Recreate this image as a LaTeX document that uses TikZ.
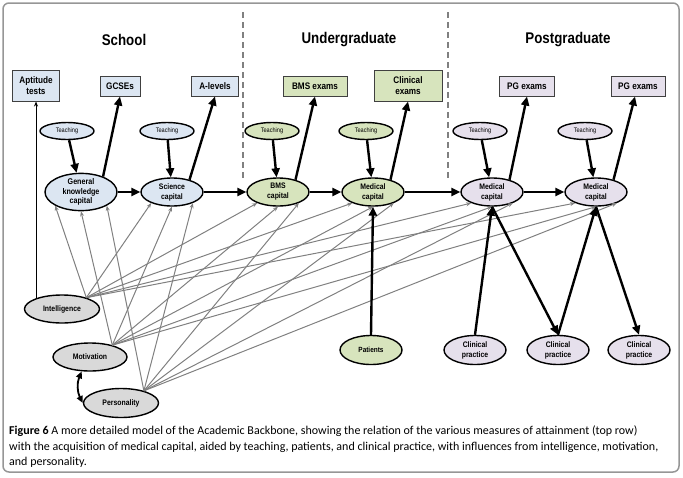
\documentclass[tikz,border=0pt]{standalone}
\usepackage{fontspec}
\setmainfont{Liberation Sans}
\newfontfamily\nfont[FakeStretch=0.86]{Liberation Sans}
\newfontfamily\capfont{Carlito}
\usetikzlibrary{arrows.meta,shapes.geometric,backgrounds}
\definecolor{schoolc}{RGB}{220,230,242}
\definecolor{ugc}{RGB}{215,228,189}
\definecolor{pgc}{RGB}{230,224,236}
\definecolor{greyc}{RGB}{217,217,217}
\definecolor{linec}{RGB}{128,128,128}
\definecolor{framec}{RGB}{150,150,150}
\tikzset{
  hdr/.style={font=\nfont\bfseries\fontsize{15.5}{18}\selectfont},
  exambox/.style={draw=black!75, line width=1pt, inner sep=0pt, minimum height=20pt, align=center,
    font=\nfont\bfseries\fontsize{9.5}{11.5}\selectfont},
  ell/.style={ellipse, draw=black, line width=1.4pt, inner sep=0pt, align=center},
  teach/.style={ell, minimum width=54pt, minimum height=17pt, font=\nfont\fontsize{6.5}{7}\selectfont},
  capn/.style={ell, minimum width=62pt, minimum height=28pt, font=\nfont\bfseries\fontsize{8}{10}\selectfont},
  infl/.style={ell, fill=greyc, minimum width=75pt, minimum height=28pt, font=\nfont\bfseries\fontsize{8}{9}\selectfont},
  bigarrow/.style={line width=2.4pt, -{Triangle[length=9pt,width=8pt]}},
  greyarrow/.style={draw=linec, line width=1pt, -{Stealth[length=5pt,width=4pt]}},
  divider/.style={draw=linec, line width=1.2pt, dash pattern=on 6pt off 4pt},
}
\begin{document}
\begin{tikzpicture}[x=1pt,y=-1pt]
\useasboundingbox (0,0) rectangle (683,477);
\draw[framec, line width=1.5pt, rounded corners=6pt] (3,3) rectangle (679,472);

% headers
\node[hdr] (hs) at (124,40) {School};
\node[hdr] (hu) at (349,40) {Undergraduate};
\node[hdr] (hp) at (568,40) {Postgraduate};

% dividers
\coordinate (d1a) at (243,12); \coordinate (d1b) at (243,180);
\coordinate (d2a) at (448,12); \coordinate (d2b) at (448,180);
\draw[divider] (d1a) -- (d1b);
\draw[divider] (d2a) -- (d2b);

% exam boxes
\node[exambox, fill=schoolc, minimum width=47pt, minimum height=31pt] (apt) at (36,85.5) {Aptitude\\tests};
\node[exambox, fill=schoolc, minimum width=40pt] (gcse) at (120,86) {GCSEs};
\node[exambox, fill=schoolc, minimum width=47pt] (alev) at (215,86) {A-levels};
\node[exambox, fill=ugc, minimum width=64pt] (bmsx) at (315,86) {BMS exams};
\node[exambox, fill=ugc, minimum width=68pt, minimum height=31pt] (clinx) at (408,85.5) {Clinical\\exams};
\node[exambox, fill=pgc, minimum width=55pt] (pgx1) at (527,86) {PG exams};
\node[exambox, fill=pgc, minimum width=54pt] (pgx2) at (638,86) {PG exams};

% teaching
\node[teach, fill=schoolc] (t1) at (67,131) {Teaching};
\node[teach, fill=schoolc] (t2) at (167,131) {Teaching};
\node[teach, fill=ugc] (t3) at (272,131) {Teaching};
\node[teach, fill=ugc] (t4) at (366,131) {Teaching};
\node[teach, fill=pgc] (t5) at (480,131) {Teaching};
\node[teach, fill=pgc] (t6) at (585,131) {Teaching};

% capitals
\node[capn, fill=schoolc, minimum width=72pt, minimum height=31pt, font=\nfont\bfseries\fontsize{8.3}{9.3}\selectfont] (gk) at (81,192) {General\\knowledge\\capital};
\node[capn, fill=schoolc] (sc) at (172,192) {Science\\capital};
\node[capn, fill=ugc] (bms) at (278,192) {BMS\\capital};
\node[capn, fill=ugc] (med) at (373,192) {Medical\\capital};
\node[capn, fill=pgc] (pg1) at (492,192) {Medical\\capital};
\node[capn, fill=pgc] (pg2) at (596,192) {Medical\\capital};

% influences
\node[infl] (int) at (62,309) {Intelligence};
\node[infl, minimum width=74pt] (mot) at (90,357) {Motivation};
\node[infl, minimum height=29pt] (pers) at (121,403) {Personality};

% patients and clinical practice
\node[capn, fill=ugc, minimum height=29pt, font=\nfont\bfseries\fontsize{7.5}{9}\selectfont] (pat) at (371,350) {Patients};
\node[capn, fill=pgc, minimum height=29pt] (cp1) at (475,350) {Clinical\\practice};
\node[capn, fill=pgc, minimum height=29pt] (cp2) at (558,350) {Clinical\\practice};
\node[capn, fill=pgc, minimum height=29pt] (cp3) at (639,350) {Clinical\\practice};

% aptitude line (behind intelligence)
\begin{pgfonlayer}{background}
\draw[line width=1pt, -{Stealth[length=5pt,width=4pt]}] (apt.south |- int.center) -- (apt.south);
\end{pgfonlayer}

% grey influence arrows
\foreach \c in {gk,sc,bms,med,pg1,pg2}{
  \draw[greyarrow] (int.25) -- (\c.-152);
  \draw[greyarrow] (mot.28) -- (\c.-90);
  \draw[greyarrow] (pers.28) -- (\c.-28);
}

% teaching arrows
\draw[bigarrow] (t1) -- (gk);
\draw[bigarrow] (t2) -- (sc);
\draw[bigarrow] (t3) -- (bms);
\draw[bigarrow] (t4) -- (med);
\draw[bigarrow] (t5) -- (pg1);
\draw[bigarrow] (t6) -- (pg2);

% exam arrows
\draw[bigarrow] (gk.35) -- (gcse.south);
\draw[bigarrow] (sc.35) -- (alev.south);
\draw[bigarrow] (bms.35) -- (bmsx.south);
\draw[bigarrow] (med.35) -- (clinx.south);
\draw[bigarrow] (pg1.35) -- (pgx1.south);
\draw[bigarrow] (pg2.35) -- ([xshift=-3pt]pgx2.south);

% backbone
\draw[bigarrow] (gk) -- (sc);
\draw[bigarrow] (sc) -- (bms);
\draw[bigarrow] (bms) -- (med);
\draw[bigarrow] (med) -- (pg1);
\draw[bigarrow] (pg1) -- (pg2);

% patients / clinical practice
\draw[bigarrow] (pat.north) -- (med.south);
\draw[bigarrow] (cp1.north) -- (pg1.south);
\draw[bigarrow] (pg1.south) -- (cp2.north);
\draw[bigarrow] (cp2.north) -- (pg2.south);
\draw[bigarrow] (pg2.south) -- (cp3.north);

% motivation <-> personality
\draw[line width=1.8pt, {Triangle[length=7pt,width=6pt]}-{Triangle[length=7pt,width=6pt]}] (mot.-120) to[bend right=25] (pers.west);

% caption
\node[anchor=north west, align=left, inner sep=0pt, font=\capfont\fontsize{12}{15.5}\selectfont] (cap) at (9,426)
{\textbf{Figure 6} A more detailed model of the Academic Backbone, showing the relation of the various measures of attainment (top row)\\
with the acquisition of medical capital, aided by teaching, patients, and clinical practice, with influences from intelligence, motivation,\\
and personality.};
\end{tikzpicture}
\end{document}
